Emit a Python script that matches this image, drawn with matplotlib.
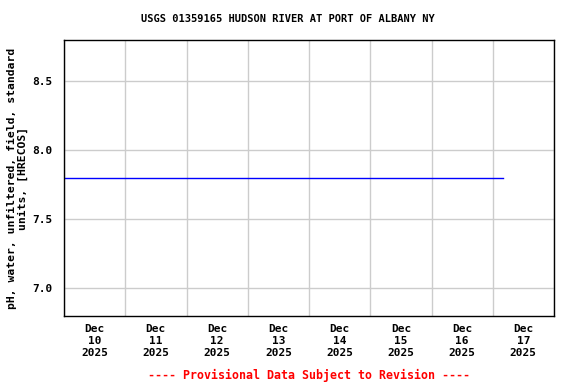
import matplotlib
matplotlib.use("Agg")
import matplotlib.pyplot as plt
import matplotlib.dates as mdates
import numpy as np
import pandas as pd

# pH readings (flat at 7.8)
times = pd.to_datetime(["2025-12-10 00:00", "2025-12-11 00:00", "2025-12-12 00:00",
                        "2025-12-13 00:00", "2025-12-14 00:00", "2025-12-15 00:00",
                        "2025-12-16 00:00", "2025-12-17 00:00", "2025-12-17 04:00"])
ph = [7.8, 7.8, 7.8, 7.8, 7.8, 7.8, 7.8, 7.8, 7.8]

yticks = [7.0, 7.5, 8.0, 8.5]
day_labels = ["Dec\n10\n2025", "Dec\n11\n2025", "Dec\n12\n2025", "Dec\n13\n2025",
              "Dec\n14\n2025", "Dec\n15\n2025", "Dec\n16\n2025", "Dec\n17\n2025"]

plt.rcParams['font.family'] = 'DejaVu Sans Mono'
plt.rcParams['font.weight'] = 'bold'

fig = plt.figure(figsize=(5.76, 3.84), dpi=100)
ax = fig.add_axes([64 / 576, 1 - 316 / 384, 490 / 576, 276 / 384])

ax.plot(times, ph, color='#0000ff', lw=1)

start = pd.Timestamp("2025-12-10")
ax.set_xlim(start, start + pd.Timedelta(days=8))
ax.set_ylim(6.8, 8.8)

midnights = [start + pd.Timedelta(days=i) for i in range(9)]
noons = [start + pd.Timedelta(days=i, hours=12) for i in range(8)]
ax.set_xticks(midnights)
ax.set_xticklabels([])
ax.set_xticks(noons, minor=True)
ax.set_xticklabels(day_labels, minor=True, fontsize=8, fontweight='bold')
ax.tick_params(axis='x', which='both', length=0, pad=6)

ax.set_yticks(yticks)
ax.set_yticklabels(["%.1f" % v for v in yticks], fontsize=8, fontweight='bold')
ax.tick_params(axis='y', length=0, pad=8)

ax.grid(True, which='major', color='#cccccc', lw=1)
ax.set_axisbelow(True)
for s in ax.spines.values():
    s.set_linewidth(1)

ax.set_ylabel("pH, water, unfiltered, field, standard\nunits, [HRECOS]",
              fontsize=8.2, fontweight='bold', linespacing=1.1, labelpad=3)
fig.text(0.5, 1 - 19 / 384, "USGS 01359165 HUDSON RIVER AT PORT OF ALBANY NY",
         ha='center', va='center', fontsize=7.5, fontweight='bold')
fig.text(309 / 576, 1 - 375 / 384, "---- Provisional Data Subject to Revision ----",
         ha='center', va='center', fontsize=8.4, fontweight='bold', color='red')

fig.savefig("out.png", dpi=100)
